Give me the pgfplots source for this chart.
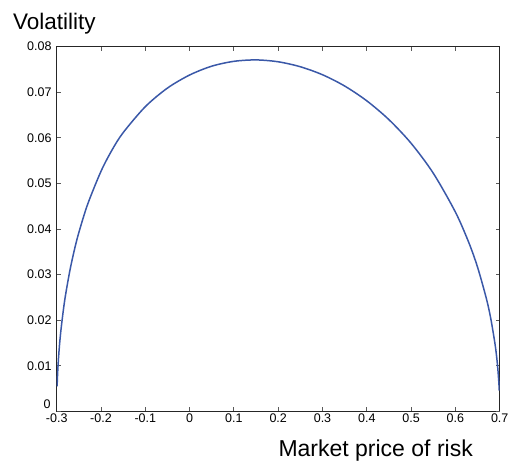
\documentclass[border=0pt]{standalone}
\usepackage{fontspec}
\setmainfont{Liberation Sans}
\usepackage{pgfplots}
\pgfplotsset{compat=1.18}
\definecolor{curveblue}{RGB}{58,88,168}
\begin{document}
\begin{tikzpicture}
\useasboundingbox (0,0) rectangle (508pt,462pt);
\begin{axis}[
  at={(56.7pt,50.5pt)}, anchor=south west,
  scale only axis, width=443pt, height=365pt,
  xmin=-0.3, xmax=0.7, ymin=0, ymax=0.08,
  xtick={-0.3,-0.2,-0.1,0,0.1,0.2,0.3,0.4,0.5,0.6,0.7},
  xticklabels={-0.3,-0.2,-0.1,0,0.1,0.2,0.3,0.4,0.5,0.6,0.7},
  ytick={0.01,0.02,0.03,0.04,0.05,0.06,0.07,0.08},
  yticklabels={0.01,0.02,0.03,0.04,0.05,0.06,0.07,0.08},
  extra y ticks={0},
  extra y tick labels={0},
  extra y tick style={yticklabel style={yshift=7pt, xshift=-1pt}},
  scaled y ticks=false,
  tick align=inside, major tick length=4pt,
  tick style={black!65, line width=0.9pt},
  axis line style={black!85, line width=1.1pt},
  ticklabel style={font=\fontsize{12.5}{14}\selectfont, inner sep=0pt},
  yticklabel style={xshift=-5pt},
  xticklabel style={yshift=-2pt},
  xlabel={Market price of risk},
  xlabel style={at={(rel axis cs:1,0)}, anchor=base east, xshift=-26.7pt, yshift=-45.5pt, inner sep=0pt, font=\fontsize{23}{26}\selectfont},
  ylabel={Volatility},
  ylabel style={rotate=-90, at={(rel axis cs:0,1)}, anchor=base west, xshift=-43.7pt, yshift=16.7pt, inner sep=0pt, font=\fontsize{22.5}{26}\selectfont},
]
\addplot[color=curveblue, line width=1.5pt, smooth] coordinates {
(-0.2991, 0.0055)
(-0.298, 0.00821)
(-0.296, 0.01160)
(-0.293, 0.01531)
(-0.290, 0.01821)
(-0.285, 0.02221)
(-0.280, 0.02557)
(-0.270, 0.03101)
(-0.260, 0.03545)
(-0.250, 0.03923)
(-0.230, 0.04546)
(-0.200, 0.05265)
(-0.175, 0.05733)
(-0.150, 0.06112)
(-0.100, 0.06681)
(-0.050, 0.07089)
(0.000, 0.07375)
(0.050, 0.07569)
(0.100, 0.07675)
(0.150, 0.07706)
(0.200, 0.07665)
(0.250, 0.07556)
(0.300, 0.07381)
(0.350, 0.07134)
(0.400, 0.06809)
(0.450, 0.06396)
(0.500, 0.05879)
(0.550, 0.05224)
(0.600, 0.04371)
(0.630, 0.03709)
(0.650, 0.03164)
(0.670, 0.02472)
(0.680, 0.02029)
(0.690, 0.01442)
(0.695, 0.01022)
(0.698, 0.00647)
(0.699, 0.00458)
};
\end{axis}
\end{tikzpicture}
\end{document}
